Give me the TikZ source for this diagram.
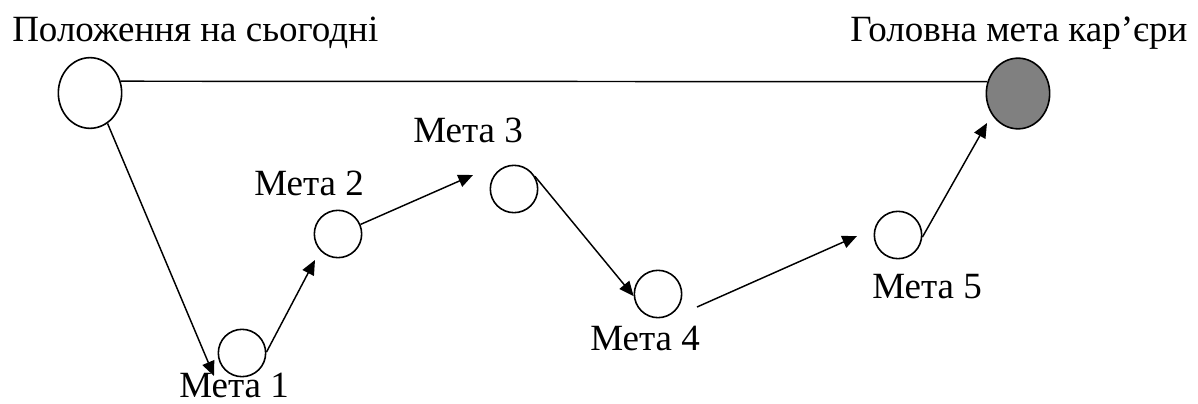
\documentclass[tikz,border=0pt]{standalone}
\usepackage{fontspec}
\setmainfont{Liberation Serif}
\usetikzlibrary{shapes.geometric,arrows.meta,calc}
\begin{document}
\begin{tikzpicture}[x=0.75pt,y=-0.75pt,
  goalnode/.style={circle,draw,line width=1.2pt,minimum size=35.5pt,inner sep=0pt},
  bignode/.style={ellipse,draw,line width=1.2pt,minimum width=47.5pt,minimum height=53pt,inner sep=0pt},
  lbl/.style={font=\fontsize{27.75}{30}\selectfont,inner sep=0pt,anchor=base west},
  arr/.style={line width=1.1pt,-{Triangle[length=11pt,width=9.5pt]}},
  conn/.style={line width=1.1pt}]
\useasboundingbox (0,0) rectangle (1198,403);
% nodes
\node[bignode] (s) at (90,93) {};
\node[bignode,fill=gray] (g) at (1018,93.5) {};
\node[goalnode] (m1) at (242,353) {};
\node[goalnode] (m2) at (338,234) {};
\node[goalnode] (m3) at (514,189) {};
\node[goalnode] (m4) at (658,294) {};
\node[goalnode] (m5) at (898,235) {};
% labels
\node[lbl] (ls) at (12,42) {Положення на сьогодні};
\node[lbl] (lg) at (850,42) {Головна мета кар’єри};
\node[lbl] (l1) at (179,397) {Мета 1};
\node[lbl] (l2) at (254,195) {Мета 2};
\node[lbl] (l3) at (413,142) {Мета 3};
\node[lbl] (l4) at (590,350) {Мета 4};
\node[lbl] (l5) at (872,298) {Мета 5};
% connectors
\draw[conn] (s.21) -- (g.159);
\coordinate (t1) at (214,376);
\draw[arr] (s.-60) -- (t1);
\coordinate (t2) at (315,260);
\draw[arr] (m1.2) -- (t2);
\coordinate (t3) at (473,175);
\draw[arr] (m2.23) -- (t3);
\draw[arr] (m3.31) -- (m4.185);
\coordinate (f4) at (697,307);
\coordinate (t5) at (857,236);
\draw[arr] (f4) -- (t5);
\coordinate (t6) at (987,123);
\draw[arr] (m5.-5) -- (t6);
\end{tikzpicture}
\end{document}
